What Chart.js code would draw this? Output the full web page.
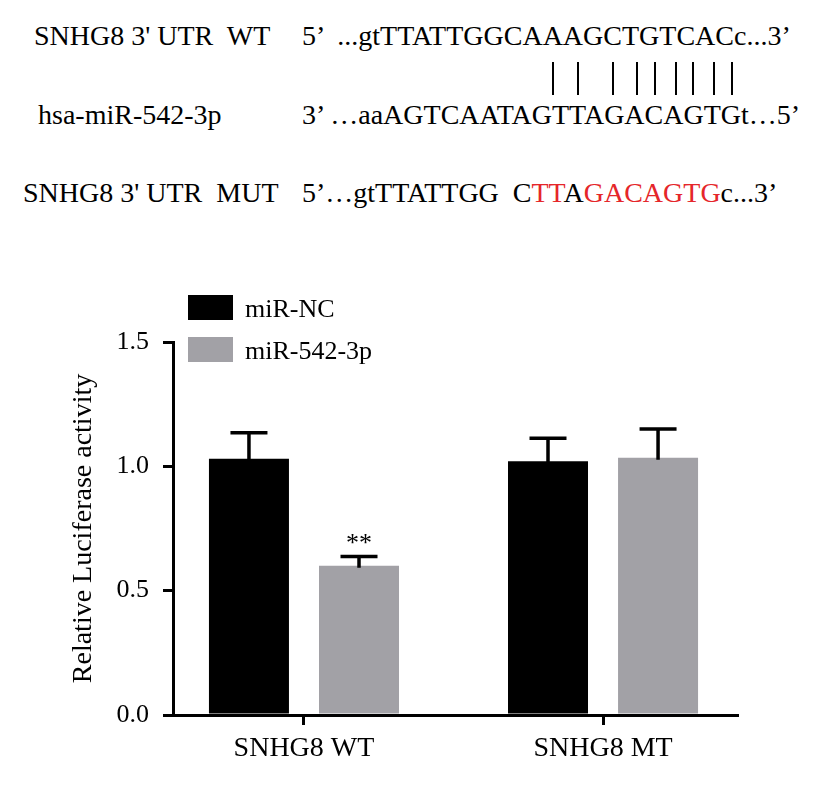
<!DOCTYPE html>
<html>
<head>
<meta charset="utf-8">
<script src="https://cdn.jsdelivr.net/npm/chart.js@4/dist/chart.umd.min.js"></script>
<style>
  html, body { margin: 0; padding: 0; background: #fff; }
  #wrap { position: relative; width: 827px; height: 792px; overflow: hidden;
          font-family: "Liberation Serif", "Times New Roman", serif; }
  #chart { position: absolute; left: 0; top: 0; }
  .t { position: absolute; font-size: 28px; line-height: 28px; white-space: pre; color: #000; }
  .red { color: #e5262a; }
  .pair { position: absolute; top: 62px; width: 1.5px; height: 33px; background: #000; }
</style>
</head>
<body>
<div id="wrap">
  <div class="t" style="left:34px;top:22px">SNHG8 3' UTR  WT</div>
  <div class="t" style="left:302px;top:22px">5’  ...gtTTATTGGCAAAGCTGTCACc...3’</div>
  <div class="pair" style="left:552px"></div>
  <div class="pair" style="left:577px"></div>
  <div class="pair" style="left:612px"></div>
  <div class="pair" style="left:636px"></div>
  <div class="pair" style="left:654px"></div>
  <div class="pair" style="left:675px"></div>
  <div class="pair" style="left:692px"></div>
  <div class="pair" style="left:713px"></div>
  <div class="pair" style="left:731px"></div>
  <div class="t" style="left:38px;top:101px">hsa-miR-542-3p</div>
  <div class="t" style="left:302px;top:101px">3’ …aaAGTCAATAGTTAGACAGTGt…5’</div>
  <div class="t" style="left:23px;top:179px">SNHG8 3' UTR  MUT</div>
  <div class="t" style="left:302px;top:179px">5’…gtTTATTGG  C<span class="red">TT</span>A<span class="red">GACAGTG</span>c...3’</div>
  <canvas id="chart" width="827" height="792"></canvas>
</div>
<script>
// Luciferase reporter assay: relative activity, mean with upper SD bar.
const groups = ["SNHG8 WT", "SNHG8 MT"];
const seriesNames = ["miR-NC", "miR-542-3p"];
const ncMean = [1.03, 1.02];
const ncErr = [0.105, 0.093];
const mirMean = [0.60, 1.035];
const mirErr = [0.037, 0.115];
const mirSig = ["**", ""];
const yTicks = [0, 0.5, 1.0, 1.5];

const FONT = "Liberation Serif";
const BLACK = "#000000";
const GRAY = "#a2a1a6";

Chart.defaults.font.family = FONT;
Chart.defaults.color = BLACK;

const toPoints = (vals) => vals.map((v, i) => ({ x: i, y: v }));

// Upper-only error bars plus significance stars, drawn at the bar positions.
const errorBars = {
  id: "errorBars",
  afterDatasetsDraw(chart) {
    const { ctx } = chart;
    const yScale = chart.scales.y;
    chart.data.datasets.forEach((ds, di) => {
      const meta = chart.getDatasetMeta(di);
      meta.data.forEach((bar, i) => {
        const top = yScale.getPixelForValue(ds.data[i].y + ds.errors[i]);
        ctx.save();
        ctx.strokeStyle = BLACK;
        ctx.lineWidth = 3.5;
        ctx.beginPath();
        ctx.moveTo(bar.x, bar.y + 2);
        ctx.lineTo(bar.x, top);
        ctx.moveTo(bar.x - 18.5, top);
        ctx.lineTo(bar.x + 18.5, top);
        ctx.stroke();
        const star = ds.marks ? ds.marks[i] : "";
        if (star) {
          ctx.fillStyle = BLACK;
          ctx.font = `26px "${FONT}"`;
          ctx.textAlign = "center";
          ctx.textBaseline = "alphabetic";
          ctx.fillText(star, bar.x, top - 6);
        }
        ctx.restore();
      });
    });
  },
};

// Legend stacked above the top-left of the plot, as in the figure.
const boxLegend = {
  id: "boxLegend",
  afterDraw(chart) {
    const { ctx } = chart;
    chart.data.datasets.forEach((ds, i) => {
      const y = 295 + i * 42;
      ctx.save();
      ctx.fillStyle = ds.backgroundColor;
      ctx.fillRect(188, y, 45, 25);
      ctx.fillStyle = BLACK;
      ctx.font = `26px "${FONT}"`;
      ctx.textAlign = "left";
      ctx.textBaseline = "alphabetic";
      ctx.fillText(ds.label, 245, y + 22);
      ctx.restore();
    });
  },
};

new Chart(document.getElementById("chart").getContext("2d"), {
  type: "bar",
  data: {
    datasets: [
      { label: seriesNames[0], data: toPoints(ncMean), errors: ncErr, backgroundColor: BLACK },
      { label: seriesNames[1], data: toPoints(mirMean), errors: mirErr, marks: mirSig, backgroundColor: GRAY },
    ],
  },
  options: {
    responsive: false,
    animation: false,
    categoryPercentage: 0.736,
    barPercentage: 0.727,
    borderSkipped: false,
    layout: { padding: { left: 0, top: 342, right: 90, bottom: 0 } },
    scales: {
      x: {
        type: "linear",
        min: -0.438,
        max: 1.448,
        offset: false,
        afterBuildTicks: (s) => { s.ticks = groups.map((_, i) => ({ value: i })); },
        afterFit: (s) => { s.height = 77; },
        ticks: {
          callback: (v, i) => groups[i],
          font: { size: 28 },
          color: BLACK,
          padding: 7,
          maxRotation: 0,
          autoSkip: false,
        },
        grid: { drawOnChartArea: false, offset: false, tickLength: 10, color: BLACK, lineWidth: 3 },
        border: { color: BLACK, width: 3 },
      },
      y: {
        min: 0,
        max: 1.5,
        afterBuildTicks: (s) => { s.ticks = yTicks.map((v) => ({ value: v })); },
        afterFit: (s) => { s.width = 173; },
        ticks: {
          callback: (v) => v.toFixed(1),
          font: { size: 26 },
          color: BLACK,
          padding: 14,
        },
        grid: { drawOnChartArea: false, tickLength: 10, color: BLACK, lineWidth: 3 },
        border: { color: BLACK, width: 3 },
        title: {
          display: true,
          text: "Relative Luciferase activity",
          font: { size: 28 },
          color: BLACK,
          padding: { top: 67, bottom: 0 },
        },
      },
    },
    plugins: {
      legend: { display: false },
      tooltip: { enabled: false },
    },
  },
  plugins: [errorBars, boxLegend],
});
</script>
</body>
</html>
